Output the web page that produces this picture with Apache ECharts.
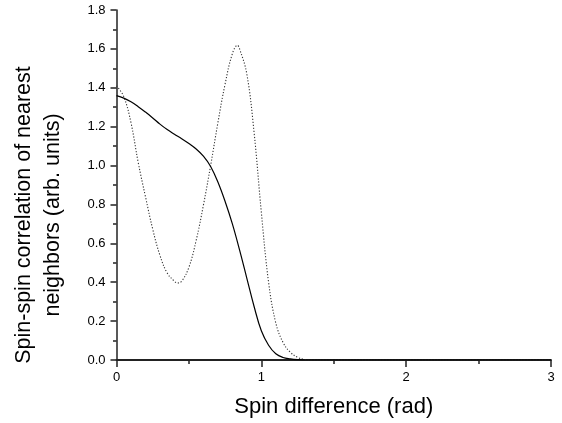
<!DOCTYPE html>
<html>
<head>
<meta charset="utf-8">
<script src="https://cdn.jsdelivr.net/npm/echarts@6/dist/echarts.min.js"></script>
<style>html,body{margin:0;padding:0;background:#fff;}#c{width:562px;height:423px;}</style>
</head>
<body>
<div id="c"></div>
<script>
const solidX = [0, 0.05, 0.1, 0.15, 0.2, 0.25, 0.3, 0.35, 0.4, 0.45, 0.5, 0.55, 0.6, 0.65, 0.7, 0.75, 0.8, 0.85, 0.9, 0.95, 1.0, 1.05, 1.1, 1.15, 1.2, 1.25, 1.3, 1.4, 1.6, 2.0, 2.5, 3.0];
const solidY = [1.36, 1.347, 1.328, 1.303, 1.275, 1.245, 1.213, 1.185, 1.161, 1.138, 1.113, 1.085, 1.048, 0.995, 0.915, 0.815, 0.70, 0.565, 0.42, 0.275, 0.15, 0.076, 0.032, 0.013, 0.006, 0.002, 0.0, 0, 0, 0, 0, 0];
const dottedX = [0, 0.05, 0.1, 0.15, 0.2, 0.25, 0.3, 0.35, 0.4, 0.42, 0.45, 0.5, 0.55, 0.6, 0.65, 0.7, 0.75, 0.8, 0.835, 0.85, 0.9, 0.95, 1.0, 1.05, 1.1, 1.15, 1.2, 1.25, 1.3, 1.35, 1.5, 2.0, 2.5, 3.0];
const dottedY = [1.41, 1.355, 1.22, 1.015, 0.84, 0.673, 0.538, 0.447, 0.405, 0.396, 0.405, 0.477, 0.615, 0.796, 1.0, 1.22, 1.42, 1.575, 1.618, 1.60, 1.47, 1.17, 0.76, 0.40, 0.19, 0.09, 0.04, 0.014, 0.003, 0, 0, 0, 0, 0];
const xTicks = [0, 1, 2, 3];
const yTitle = 'Spin-spin correlation of nearest\nneighbors (arb. units)';
const xTitle = 'Spin difference (rad)';

const zip = (xs, ys) => xs.map((x, i) => [x, ys[i]]);
const font = 'Liberation Sans, Arial, Helvetica, sans-serif';
const chart = echarts.init(document.getElementById('c'), null, {renderer: 'canvas'});
chart.setOption({
  animation: false,
  backgroundColor: '#fff',
  grid: {left: 116.5, right: 11, top: 10, bottom: 60},
  graphic: [{
    type: 'text', x: 39, y: 215, rotation: Math.PI / 2,
    style: {text: yTitle, fill: '#000', fontSize: 21.5, fontFamily: font,
      align: 'center', verticalAlign: 'middle', lineHeight: 29}
  }],
  xAxis: {
    type: 'value', min: 0, max: 3, interval: 1,
    axisLine: {show: true, onZero: false, lineStyle: {color: '#222', width: 1.8}},
    axisTick: {show: true, inside: false, length: 7, lineStyle: {color: '#222', width: 1.5}},
    minorTick: {show: true, splitNumber: 2, length: 4, lineStyle: {color: '#222', width: 1.5}},
    splitLine: {show: false},
    axisLabel: {color: '#000', fontSize: 13, fontFamily: font, margin: 11,
      formatter: v => xTicks.includes(v) ? String(v) : ''},
    name: xTitle, nameLocation: 'middle', nameGap: 36,
    nameTextStyle: {color: '#000', fontSize: 22, fontFamily: font}
  },
  yAxis: {
    type: 'value', min: 0, max: 1.8, interval: 0.2,
    axisLine: {show: true, onZero: false, lineStyle: {color: '#222', width: 1.5}},
    axisTick: {show: true, inside: false, length: 6, lineStyle: {color: '#222', width: 1.5}},
    minorTick: {show: true, splitNumber: 2, length: 3.5, lineStyle: {color: '#222', width: 1.5}},
    splitLine: {show: false},
    axisLabel: {color: '#000', fontSize: 13, fontFamily: font, margin: 11,
      formatter: v => v.toFixed(1)}
  },
  series: [
    {type: 'line', data: zip(solidX, solidY), smooth: 0.4, symbol: 'none',
     lineStyle: {color: '#000', width: 1.2, type: 'solid'}, z: 3},
    {type: 'line', data: zip(dottedX, dottedY), smooth: 0.4, symbol: 'none',
     lineStyle: {color: '#333', width: 1.1, type: [1.2, 1.8]}, z: 2}
  ]
});
</script>
</body>
</html>
